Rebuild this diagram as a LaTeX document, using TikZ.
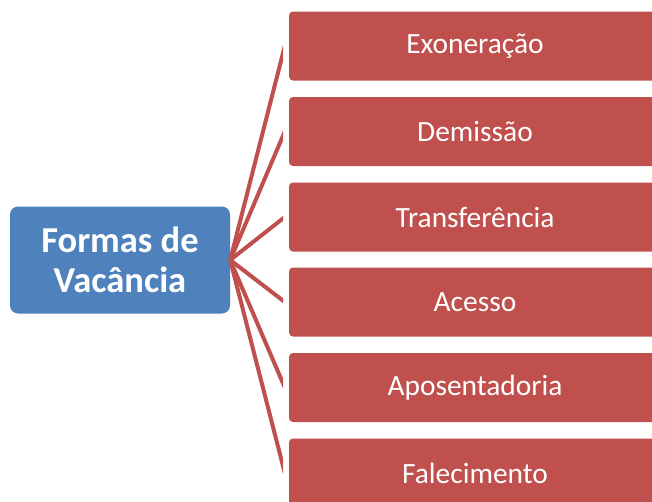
\documentclass[tikz,border=0pt]{standalone}
\usepackage{fontspec}
\setmainfont{Carlito}
\definecolor{bluebox}{HTML}{4F81BD}
\definecolor{redbox}{HTML}{C0504D}
\begin{document}
\begin{tikzpicture}[x=1pt,y=-1pt,
  mainbox/.style={fill=bluebox, draw=none, rounded corners=8pt, minimum width=220pt, minimum height=107pt, inner sep=0pt, text=white, font=\fontsize{36.5}{40}\selectfont\bfseries, align=center},
  itembox/.style={fill=redbox, draw=none, rounded corners=4pt, minimum width=372pt, minimum height=69pt, inner sep=0pt, text=white, font=\fontsize{29.4}{34}\selectfont},
  link/.style={draw=redbox, line width=4pt}]
\useasboundingbox (0,0) rectangle (652,501);
\clip (0,0) rectangle (652,501);
\fill[white] (0,0) rectangle (652,501);
\node[mainbox] (root) at (120,260) {Formas de\\Vacância};
\node[itembox] (b1) at (475,46) {Exoneração};
\node[itembox] (b2) at (475,131.5) {Demissão};
\node[itembox] (b3) at (475,217) {Transferência};
\node[itembox] (b4) at (475,302) {Acesso};
\node[itembox] (b5) at (475,387.5) {Aposentadoria};
\node[itembox] (b6) at (475,473) {Falecimento};
\begin{scope}
\clip (0,0) rectangle (283,501);
\foreach \i in {1,...,6}{
  \coordinate (e\i) at ([xshift=-6pt]b\i.west);
  \draw[link] (root.east) -- ([xshift=2pt]e\i);
}
\end{scope}
\end{tikzpicture}
\end{document}
